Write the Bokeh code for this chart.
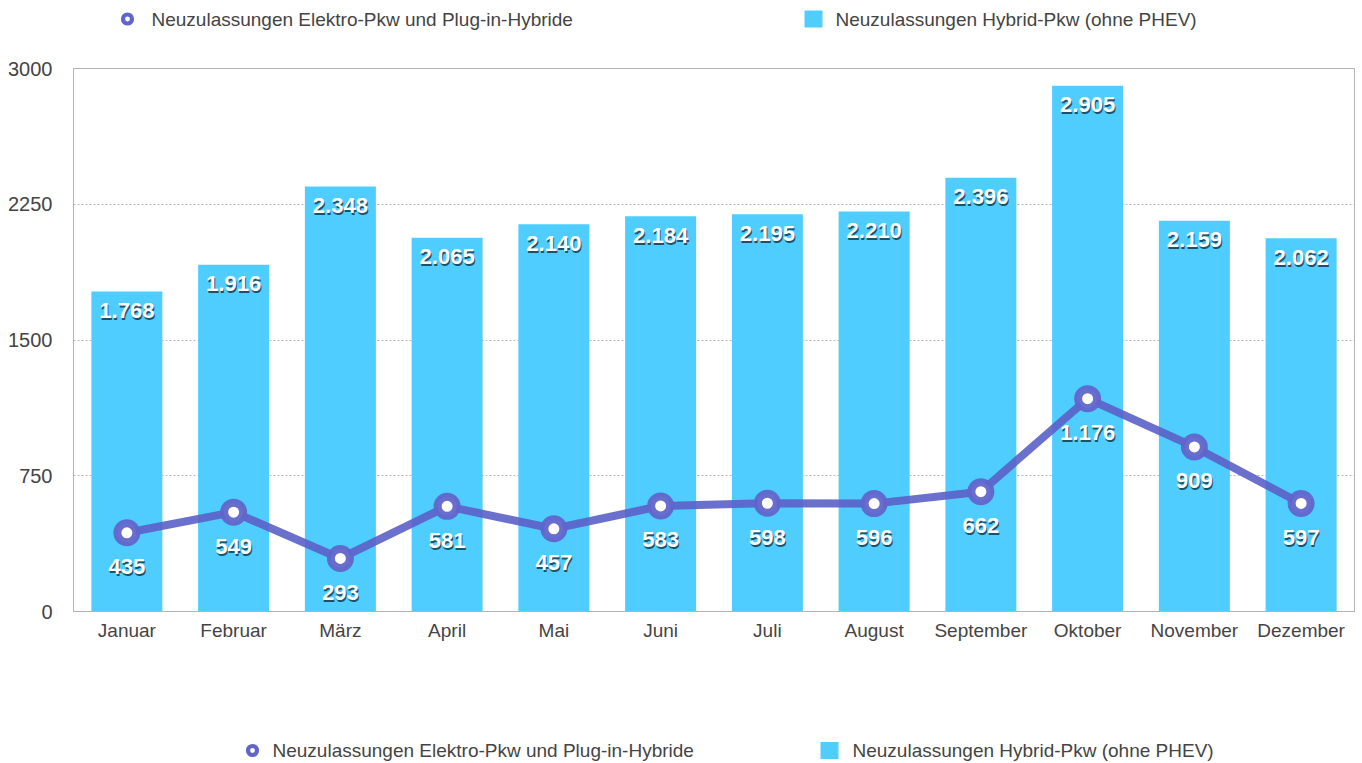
from bokeh.plotting import figure
from bokeh.layouts import column
from bokeh.models import (ColumnDataSource, FactorRange, Range1d, FixedTicker,
                          NumeralTickFormatter)
from bokeh.core.properties import value
from bokeh.embed import file_html
from bokeh.resources import INLINE

months = ["Januar", "Februar", "März", "April", "Mai", "Juni", "Juli", "August",
          "September", "Oktober", "November", "Dezember"]
hybrid = [1768, 1916, 2348, 2065, 2140, 2184, 2195, 2210, 2396, 2905, 2159, 2062]
elektro = [435, 549, 293, 581, 457, 583, 598, 596, 662, 1176, 909, 597]
y_ticks = [0, 750, 1500, 2250, 3000]
series_names = ["Neuzulassungen Elektro-Pkw und Plug-in-Hybride",
                "Neuzulassungen Hybrid-Pkw (ohne PHEV)"]

def de_fmt(v):
    return f"{v:,}".replace(",", ".")

FONT = "Liberation Sans"
BAR_COLOR = "#4fcdff"
LINE_COLOR = "#5b60c8"
RING_COLOR = "#6065cb"
TXT = "#444444"
W = 1362
FRAME_L, FRAME_W = 73, 1281

src = ColumnDataSource(dict(
    m=months, hybrid=hybrid, elektro=elektro,
    hyb_lbl=[de_fmt(v) for v in hybrid],
    ele_lbl=[de_fmt(v) for v in elektro],
))

# ---------------- main chart ----------------
p = figure(x_range=FactorRange(*months, range_padding=0), y_range=Range1d(0, 3000),
           width=W, height=618, output_backend="svg", toolbar_location=None,
           min_border_left=FRAME_L, min_border_right=W - FRAME_L - FRAME_W,
           min_border_top=15, min_border_bottom=60)
p.frame_width = FRAME_W
p.frame_height = 543

p.outline_line_color = "#b3b3b3"
p.outline_line_width = 1
p.background_fill_color = "white"
p.border_fill_color = "white"

p.xgrid.grid_line_color = None
p.ygrid.grid_line_color = "#b8b8b8"
p.ygrid.grid_line_dash = "2 2"
p.ygrid.grid_line_width = 1

p.yaxis.ticker = FixedTicker(ticks=y_ticks)
p.yaxis.formatter = NumeralTickFormatter(format="0")
for ax in (p.xaxis[0], p.yaxis[0]):
    ax.axis_line_color = "#b3b3b3"
    ax.major_tick_line_color = None
    ax.minor_tick_line_color = None
    ax.major_tick_out = 0
    ax.major_label_text_font = FONT
    ax.major_label_text_color = TXT
p.xaxis.major_label_text_font_size = "19px"
p.yaxis.major_label_text_font_size = "20px"
p.yaxis.major_label_standoff = 21
p.xaxis.major_label_standoff = 8

p.vbar(x="m", top="hybrid", width=0.665, source=src, fill_color=BAR_COLOR, line_color=None)

p.line(x="m", y="elektro", source=src, line_color=LINE_COLOR, line_width=8,
       line_alpha=0.9, line_join="round")
p.scatter(x="m", y="elektro", source=src, size=19, fill_color="white",
          line_color=RING_COLOR, line_width=8, line_alpha=0.95)

common = dict(text_font=value(FONT), text_font_size="22px", text_font_style="bold",
              text_align="center", text_baseline="middle")
p.text(x="m", y="hybrid", text="hyb_lbl", source=src, text_color="#0a2a3a", text_alpha=0.75,
       x_offset=1, y_offset=21, **common)
p.text(x="m", y="hybrid", text="hyb_lbl", source=src, text_color="white",
       x_offset=0, y_offset=19, **common)
p.text(x="m", y="elektro", text="ele_lbl", source=src, text_color="#0a2a3a", text_alpha=0.75,
       x_offset=1, y_offset=36, **common)
p.text(x="m", y="elektro", text="ele_lbl", source=src, text_color="white",
       x_offset=0, y_offset=34, **common)

# ---------------- legend strips (page-pixel coordinates) ----------------
def legend_strip(y0, y1, yc, ring_x, ring_txt_x, sq_x, sq_txt_x):
    f = figure(width=W, height=y1 - y0,
               x_range=Range1d(FRAME_L, FRAME_L + FRAME_W), y_range=Range1d(y1, y0),
               output_backend="svg", toolbar_location=None,
               min_border_left=FRAME_L, min_border_right=W - FRAME_L - FRAME_W,
               min_border_top=0, min_border_bottom=0)
    f.frame_width = FRAME_W
    f.axis.visible = False
    f.grid.visible = False
    f.outline_line_color = None
    f.scatter(x=[ring_x], y=[yc], size=9, fill_color="white", line_color=RING_COLOR,
              line_width=4.2)
    f.rect(x=[sq_x], y=[yc], width=18, height=17, fill_color=BAR_COLOR, line_color=None)
    f.text(x=[ring_txt_x, sq_txt_x], y=[yc, yc], text=series_names,
           text_font=value(FONT), text_font_size="19px", text_color=TXT,
           text_baseline="middle", text_align="left")
    return f

top = legend_strip(0, 53, 18.5, 127, 151, 813, 835)
bottom = legend_strip(671, 763, 750, 252, 272, 829, 852)

layout = column(top, p, bottom, spacing=0)
open("out.html", "w").write(file_html(layout, INLINE))
